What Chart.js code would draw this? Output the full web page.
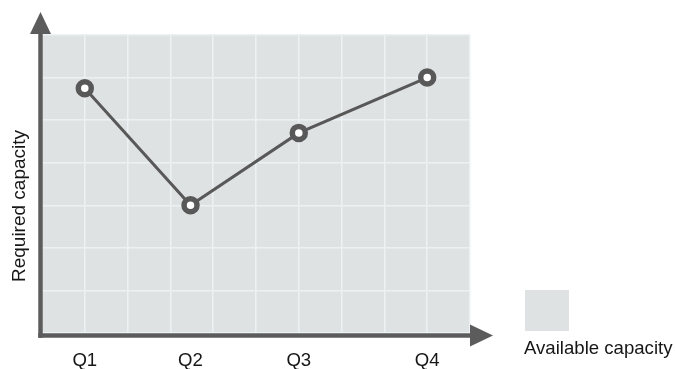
<!DOCTYPE html>
<html>
<head>
<meta charset="utf-8">
<script src="https://cdn.jsdelivr.net/npm/chart.js@4/dist/chart.umd.min.js"></script>
<style>
  html, body { margin: 0; padding: 0; background: #ffffff; }
  #wrap { width: 675px; height: 369px; }
</style>
</head>
<body>
<div id="wrap"><canvas id="c" width="675" height="369"></canvas></div>
<script>
// Quarter categories and where each sits on the horizontal scale
const quarters = ['Q1', 'Q2', 'Q3', 'Q4'];
const quarterPos = [1, 3.47, 6, 9];
// Required capacity per quarter (grid units)
const requiredCapacity = [5.75, 3, 4.7, 6];
// Texts
const yTitle = 'Required capacity';
const legendLabel = 'Available capacity';

const AREA_BG = '#dfe2e3';
const AXIS = '#5c5c5c';
const LINE = '#585858';
const TEXT = '#161616';
const FONT = '"Liberation Sans", Arial, sans-serif';

// Grey "available capacity" field behind the grid
const areaFill = {
  id: 'areaFill',
  beforeDraw(chart) {
    const { ctx, chartArea: a } = chart;
    ctx.save();
    ctx.fillStyle = AREA_BG;
    ctx.fillRect(a.left, a.top, a.right - a.left, a.bottom - a.top);
    ctx.restore();
  }
};

// Arrowed axes, quarter labels, axis title and legend
const decorations = {
  id: 'decorations',
  beforeDatasetsDraw(chart) {
    const { ctx, chartArea: a } = chart;
    ctx.save();
    ctx.strokeStyle = AXIS;
    ctx.fillStyle = AXIS;
    ctx.lineWidth = 4.5;
    const ax = a.left - 1.5;
    const ay = a.bottom + 2.5;
    // vertical axis
    ctx.beginPath();
    ctx.moveTo(ax, 30);
    ctx.lineTo(ax, ay + 2.25);
    ctx.stroke();
    // horizontal axis
    ctx.beginPath();
    ctx.moveTo(ax - 2.25, ay);
    ctx.lineTo(a.right + 2, ay);
    ctx.stroke();
    // arrow heads
    ctx.beginPath();
    ctx.moveTo(ax, 12);
    ctx.lineTo(ax + 10.5, 34);
    ctx.lineTo(ax - 10.5, 34);
    ctx.closePath();
    ctx.fill();
    ctx.beginPath();
    ctx.moveTo(a.right + 23, ay);
    ctx.lineTo(a.right, ay - 11);
    ctx.lineTo(a.right, ay + 11);
    ctx.closePath();
    ctx.fill();
    ctx.restore();
  },
  afterDraw(chart) {
    const { ctx, scales } = chart;
    ctx.save();
    ctx.fillStyle = TEXT;
    // quarter labels
    ctx.font = '18.6px ' + FONT;
    ctx.textAlign = 'center';
    ctx.textBaseline = 'alphabetic';
    quarters.forEach((q, i) => {
      ctx.fillText(q, scales.x.getPixelForValue(quarterPos[i]), 366);
    });
    // vertical axis title
    ctx.save();
    ctx.font = '19px ' + FONT;
    ctx.translate(25, 206);
    ctx.rotate(-Math.PI / 2);
    ctx.fillText(yTitle, 0, 0);
    ctx.restore();
    // legend
    ctx.fillStyle = AREA_BG;
    ctx.fillRect(525, 290, 44, 41);
    ctx.fillStyle = TEXT;
    ctx.font = '18.6px ' + FONT;
    ctx.textAlign = 'left';
    ctx.fillText(legendLabel, 524, 354);
    ctx.restore();
  }
};

new Chart(document.getElementById('c'), {
  type: 'line',
  data: {
    datasets: [{
      label: yTitle,
      data: quarters.map((q, i) => ({ x: quarterPos[i], y: requiredCapacity[i] })),
      borderColor: LINE,
      borderWidth: 3,
      tension: 0,
      pointRadius: 6.5,
      pointBorderWidth: 5.5,
      pointBackgroundColor: '#ffffff',
      pointBorderColor: LINE,
      clip: false
    }]
  },
  options: {
    responsive: false,
    animation: false,
    events: [],
    layout: { padding: { left: 42, right: 205, top: 35, bottom: 36 } },
    plugins: { legend: { display: false }, tooltip: { enabled: false } },
    scales: {
      x: {
        type: 'linear', min: 0, max: 10,
        ticks: { display: false, stepSize: 1 },
        grid: { color: '#ebf1f4', lineWidth: 1.5, drawTicks: false },
        border: { display: false },
        afterFit(s) { s.height = 0; }
      },
      y: {
        type: 'linear', min: 0, max: 7,
        ticks: { display: false, stepSize: 1 },
        grid: { color: '#ebf1f4', lineWidth: 1.5, drawTicks: false },
        border: { display: false },
        afterFit(s) { s.width = 0; }
      }
    }
  },
  plugins: [areaFill, decorations]
});
</script>
</body>
</html>
